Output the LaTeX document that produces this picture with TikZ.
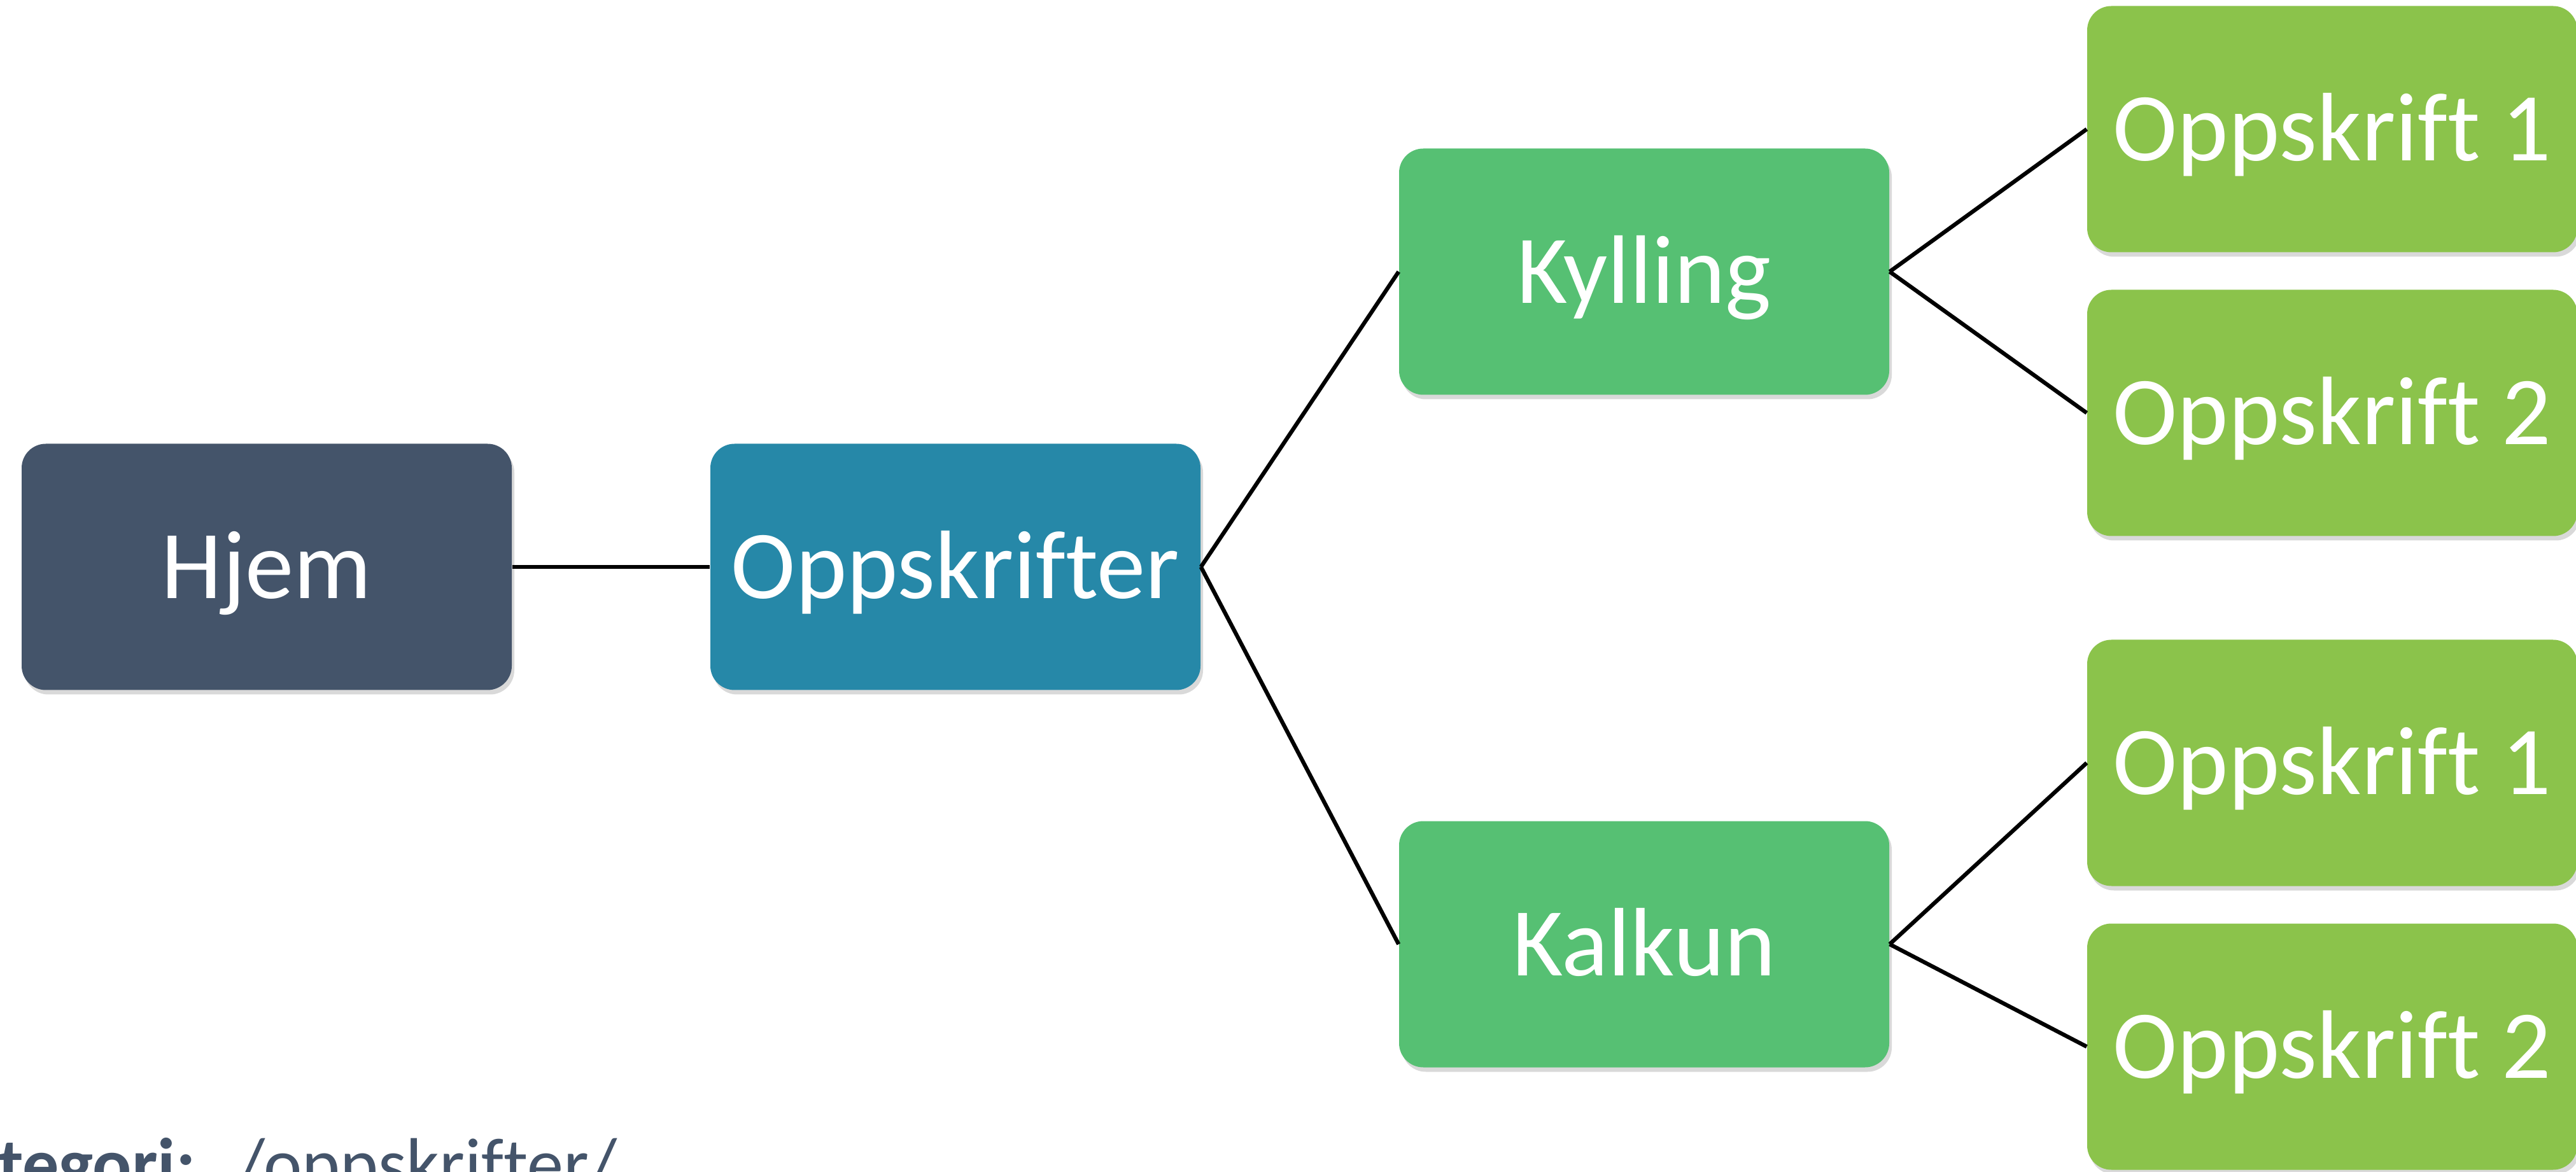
\documentclass[tikz,border=0pt]{standalone}
\usepackage{fontspec}
\setmainfont{Carlito}[Ligatures={NoCommon}]
\usetikzlibrary{shadows}

\definecolor{hjemcol}{HTML}{44546A}
\definecolor{tealcol}{HTML}{2688A8}
\definecolor{greencol}{HTML}{56C073}
\definecolor{limecol}{HTML}{8BC34B}

\tikzset{
    pagebox/.style={rounded corners=0.38cm, minimum width=7.7cm, minimum height=3.87cm,
        inner sep=0pt, text=white, text height=0.99cm, text depth=0pt,
        font=\fontsize{43.5}{52}\selectfont,
        drop shadow={shadow xshift=0.04cm, shadow yshift=-0.07cm, opacity=0.3}},
    link/.style={line width=1.8pt, black}
}

\begin{document}
\begin{tikzpicture}
    % Canvas with the reference margins
    \useasboundingbox (0,0) rectangle (40.47,18.41);

    % Pages of the site
    \node[pagebox, fill=hjemcol] (hjem) at (4.19,9.50) {Hjem};
    \node[pagebox, fill=tealcol] (oppskrifter) at (15.01,9.50) {Oppskrifter};
    \node[pagebox, fill=greencol] (kylling) at (25.83,14.14) {Kylling};
    \node[pagebox, fill=greencol] (kalkun) at (25.83,3.57) {Kalkun};
    \node[pagebox, fill=limecol] (kyllingA) at (36.64,16.38) {Oppskrift 1};
    \node[pagebox, fill=limecol] (kyllingB) at (36.64,11.92) {Oppskrift 2};
    \node[pagebox, fill=limecol] (kalkunA) at (36.64,6.42) {Oppskrift 1};
    \node[pagebox, fill=limecol] (kalkunB) at (36.64,1.96) {Oppskrift 2};

    % Links between the pages
    \draw[link] (hjem.east) -- (oppskrifter.west);
    \draw[link] (oppskrifter.east) -- (kylling.west);
    \draw[link] (oppskrifter.east) -- (kalkun.west);
    \draw[link] (kylling.east) -- (kyllingA.west);
    \draw[link] (kylling.east) -- (kyllingB.west);
    \draw[link] (kalkun.east) -- (kalkunA.west);
    \draw[link] (kalkun.east) -- (kalkunB.west);

    % Caption at the bottom edge (cut by the page)
    \node[anchor=base west, inner sep=0pt, text=hjemcol, font=\fontsize{32.5}{38}\selectfont]
        (kategori) at (-1.2,-0.27) {\textbf{Kategori:}\hspace{0.65cm}/oppskrifter/};
\end{tikzpicture}
\end{document}
